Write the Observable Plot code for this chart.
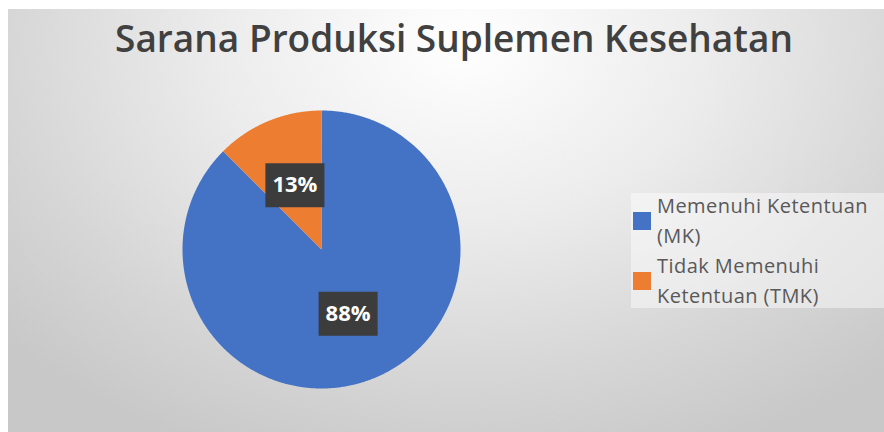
<!DOCTYPE html>
<html>
<head>
<meta charset="utf-8">
<script src="https://cdn.jsdelivr.net/npm/d3@7"></script>
<script src="https://cdn.jsdelivr.net/npm/@observablehq/plot@0.6"></script>
<style>
  html, body { margin: 0; padding: 0; background: #ffffff; }
  #wrap { position: relative; width: 884px; height: 432px; overflow: hidden; background: #ffffff; }
  #panel { position: absolute; left: 8px; top: 9px; width: 876px; height: 423px;
    background: radial-gradient(ellipse 70% 105% at 52% 8%, #ffffff 0%, #ececec 40%, #d6d6d6 75%, #c8c8c8 100%); }
  #title { position: absolute; left: 8px; width: 892px; top: 12px; text-align: center;
    font-family: "Open Sans", sans-serif; font-weight: 600; font-size: 37px; color: #404040; white-space: nowrap; }
  #chart { position: absolute; left: 0; top: 0; }
  #legend { position: absolute; left: 631px; top: 193px; width: 253px; height: 115px;
    background: rgba(255,255,255,0.45); font-family: "Open Sans", sans-serif; font-size: 20px; letter-spacing: 0.45px; color: #595959; }
  .item { position: absolute; left: 2px; display: flex; align-items: center; }
  .sw { width: 18px; height: 18px; margin-right: 6px; flex: none; }
  .lab { width: 224px; line-height: 29.5px; }
</style>
</head>
<body>
<div id="wrap">
  <div id="panel"></div>
  <div id="chart"></div>
  <div id="title"></div>
  <div id="legend"></div>
</div>
<script>
const titleText = "Sarana Produksi Suplemen Kesehatan";
const categories = ["Memenuhi Ketentuan (MK)", "Tidak Memenuhi Ketentuan (TMK)"];
const values = [87.5, 12.5];
const valueLabels = ["88%", "13%"];
const colors = ["#4472C4", "#ED7D31"];

document.getElementById("title").textContent = titleText;

// pie geometry from data
const arcs = d3.pie().sort(null).value(d => d)(values);
const pt = (a, r = 1) => [r * Math.sin(a), -r * Math.cos(a)];
const features = arcs.map((a, i) => {
  const ring = [[0, 0]];
  const n = Math.max(2, Math.ceil((a.endAngle - a.startAngle) / (Math.PI / 360)));
  for (let k = 0; k <= n; ++k) ring.push(pt(a.startAngle + (a.endAngle - a.startAngle) * k / n));
  ring.push([0, 0]);
  return {type: "Feature", properties: {cat: categories[i]}, geometry: {type: "Polygon", coordinates: [ring]}};
});
const labelData = arcs.map((a, i) => {
  const [x, y] = pt((a.startAngle + a.endAngle) / 2, 0.5);
  return {x, y, text: valueLabels[i]};
});

const boxSymbol = {
  draw(ctx) {
    ctx.moveTo(-29.5, -22); ctx.lineTo(29.5, -22); ctx.lineTo(29.5, 22); ctx.lineTo(-29.5, 22); ctx.closePath();
  }
};

const projection = d3.geoIdentity().scale(139).translate([321, 249]);

const chart = Plot.plot({
  width: 884,
  height: 432,
  margin: 0,
  projection,
  color: {domain: categories, range: colors},
  style: {background: "transparent", fontFamily: "Open Sans, sans-serif"},
  marks: [
    Plot.geo(features, {fill: d => d.properties.cat, stroke: "none"}),
    Plot.dot(labelData, {x: "x", y: "y", symbol: boxSymbol, fill: "#3c3c3c", stroke: "none"}),
    Plot.text(labelData, {x: "x", y: "y", text: "text", fill: "#ffffff", fontSize: 22, fontWeight: "bold", fontFamily: "Open Sans, sans-serif"})
  ]
});
document.getElementById("chart").appendChild(chart);

// legend
const legend = document.getElementById("legend");
categories.forEach((c, i) => {
  const item = document.createElement("div");
  item.className = "item";
  item.style.top = (-2 + i * 60) + "px";
  const sw = document.createElement("div");
  sw.className = "sw";
  sw.style.background = colors[i];
  const lab = document.createElement("div");
  lab.className = "lab";
  lab.textContent = c;
  item.appendChild(sw); item.appendChild(lab);
  legend.appendChild(item);
});
</script>
</body>
</html>
